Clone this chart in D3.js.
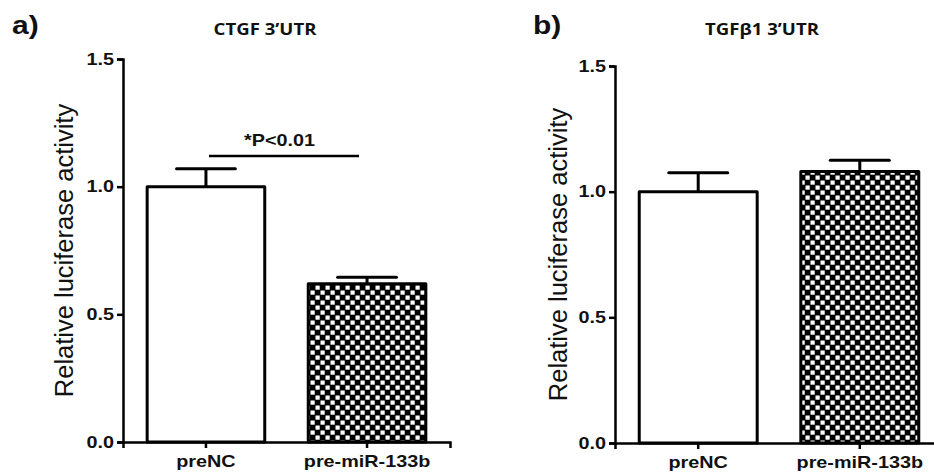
<!DOCTYPE html>
<html>
<head>
<meta charset="utf-8">
<script src="https://cdn.jsdelivr.net/npm/d3@7/dist/d3.min.js"></script>
<style>
  html, body { margin: 0; padding: 0; background: #fff; }
  svg { display: block; }
  text { fill: #111; }
</style>
</head>
<body>
<svg id="chart" width="934" height="474"></svg>
<script>
// values
const categories = ['preNC', 'pre-miR-133b'];
const ctgfMeans = [1.00, 0.62];
const ctgfErrs = [0.07, 0.025];
const tgfMeans = [1.00, 1.08];
const tgfErrs = [0.075, 0.045];
const yTicks = [0, 0.5, 1.0, 1.5];
const yLabel = 'Relative luciferase activity';

const SX = 1.2; // the bold text in the figure is a bit wide

const svg = d3.select('#chart');

// checkerboard fill for the miR bars
const pat = svg.append('defs').append('pattern')
  .attr('id', 'checker')
  .attr('patternUnits', 'userSpaceOnUse')
  .attr('width', 10).attr('height', 10);
pat.append('rect').attr('width', 10).attr('height', 10).attr('fill', '#000');
pat.append('rect').attr('x', 0.5).attr('y', 0.5).attr('width', 4.2).attr('height', 4.2).attr('fill', '#fff');
pat.append('rect').attr('x', 5.5).attr('y', 5.5).attr('width', 4.2).attr('height', 4.2).attr('fill', '#fff');

function wideText(g, x, y, str, size, anchor) {
  return g.append('text')
    .attr('transform', `translate(${x},${y}) scale(${SX},1)`)
    .attr('text-anchor', anchor || 'middle')
    .attr('font-family', 'Liberation Sans, Arial, sans-serif')
    .attr('font-weight', 700)
    .attr('font-size', size)
    .text(str);
}

function drawPanel(opts) {
  const g = svg.append('g');
  const { means, errs, x0, x1, yTop, yBot } = opts;

  const y = d3.scaleLinear().domain([0, 1.5]).range([yBot, yTop]);
  const x = d3.scaleBand().domain(categories).range([x0, x1])
    .paddingInner(0.27).paddingOuter(0.15);

  // panel letter + title
  wideText(g, opts.letterX, 34, opts.letter, 25, 'start');
  g.append('text')
    .attr('transform', `translate(${opts.titleX},35) scale(1.2,1)`)
    .attr('text-anchor', 'middle')
    .attr('font-family', 'Open Sans, sans-serif')
    .attr('font-weight', 700)
    .attr('font-size', 15.5)
    .text(opts.title);

  // bars
  const bars = categories.map((c, i) => ({ c, v: means[i], e: errs[i], i }));
  g.selectAll('rect.bar').data(bars).join('rect')
    .attr('class', 'bar')
    .attr('x', d => x(d.c))
    .attr('width', x.bandwidth())
    .attr('y', d => y(d.v))
    .attr('height', d => y(0) - y(d.v))
    .attr('fill', d => d.i === 0 ? '#fff' : 'url(#checker)')
    .attr('stroke', '#000')
    .attr('stroke-width', 3)
    .attr('stroke-linejoin', 'round');

  // error bars (upper only)
  const eb = g.selectAll('g.err').data(bars).join('g').attr('class', 'err');
  eb.append('line')
    .attr('x1', d => x(d.c) + x.bandwidth() / 2)
    .attr('x2', d => x(d.c) + x.bandwidth() / 2)
    .attr('y1', d => y(d.v))
    .attr('y2', d => y(d.v + d.e))
    .attr('stroke', '#000').attr('stroke-width', 3);
  eb.append('line')
    .attr('x1', d => x(d.c) + x.bandwidth() / 4)
    .attr('x2', d => x(d.c) + x.bandwidth() * 3 / 4)
    .attr('y1', d => y(d.v + d.e))
    .attr('y2', d => y(d.v + d.e))
    .attr('stroke', '#000').attr('stroke-width', 3)
    .attr('stroke-linecap', 'round');

  // axes
  const ya = g.append('g')
    .attr('transform', `translate(${x0},0)`)
    .call(d3.axisLeft(y).tickValues(yTicks).tickFormat(d3.format('.1f')).tickSize(6).tickPadding(3));
  const xa = g.append('g')
    .attr('transform', `translate(0,${yBot})`)
    .call(d3.axisBottom(x).tickSizeOuter(0).tickSize(6).tickPadding(4));

  [ya, xa].forEach(a => {
    a.select('.domain').attr('stroke', '#000').attr('stroke-width', 2.5);
    a.selectAll('.tick line').attr('stroke', '#000').attr('stroke-width', 2.5);
    a.selectAll('text')
      .attr('font-family', 'Liberation Sans, Arial, sans-serif')
      .attr('font-weight', 700)
      .attr('font-size', 16.5)
      .attr('fill', '#111');
  });
  ya.selectAll('.tick text').each(function () {
    const t = d3.select(this);
    const tx = +t.attr('x');
    t.attr('x', null).attr('transform', `translate(${tx},0) scale(${SX},1)`);
  });
  xa.selectAll('.tick text').attr('transform', `scale(${SX},1)`).attr('dy', '0.9em');

  // y title
  g.append('text')
    .attr('transform', `translate(${opts.labelX},${(yTop + yBot) / 2}) rotate(-90)`)
    .attr('text-anchor', 'middle')
    .attr('font-family', 'Liberation Sans, Arial, sans-serif')
    .attr('font-size', 25.5)
    .text(yLabel);

  return { g, x, y };
}

const a = drawPanel({
  means: ctgfMeans, errs: ctgfErrs, x0: 123, x1: 450, yTop: 59, yBot: 442,
  letter: 'a)', letterX: 12, title: 'CTGF 3\u2019UTR', titleX: 265, labelX: 73
});
drawPanel({
  means: tgfMeans, errs: tgfErrs, x0: 615, x1: 943, yTop: 66, yBot: 443,
  letter: 'b)', letterX: 533, title: 'TGF\u03b21 3\u2019UTR', titleX: 762, labelX: 567
});

// significance bar in panel a
const sigY = 1.12;
const c0 = a.x(categories[0]) + a.x.bandwidth() / 2;
const c1 = a.x(categories[1]) + a.x.bandwidth() / 2;
a.g.append('line')
  .attr('x1', c0 + 3).attr('x2', c1 - 8)
  .attr('y1', a.y(sigY)).attr('y2', a.y(sigY))
  .attr('stroke', '#000').attr('stroke-width', 2.5);
wideText(a.g, (c0 + c1) / 2 - 7, a.y(sigY) - 10, '*P<0.01', 16.5);
</script>
</body>
</html>
